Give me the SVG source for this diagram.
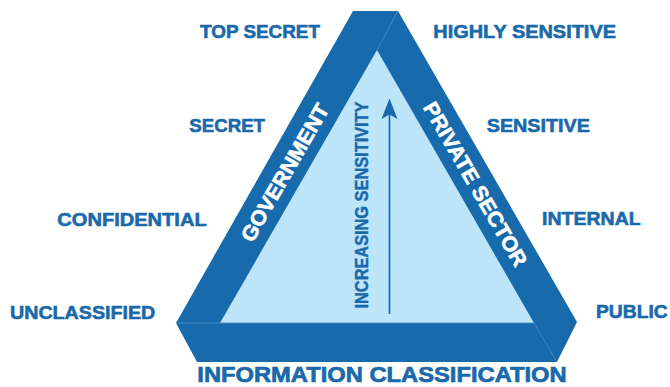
<svg xmlns="http://www.w3.org/2000/svg" width="670" height="387" viewBox="0 0 670 387">
<style>
.band{fill:#176aab}
.inner{fill:#bde5f9}
.seam{stroke:#4d90c9;stroke-width:0.8;fill:none}
.lbl{font-family:"Liberation Sans",Arial,sans-serif;font-weight:bold;font-size:19px;fill:#1a69aa;stroke:#1a69aa;stroke-width:0.6}
.bandtxt{font-family:"Liberation Sans",Arial,sans-serif;font-weight:bold;font-size:21px;fill:#ffffff;stroke:#ffffff;stroke-width:0.6}
.axis{font-family:"Liberation Sans",Arial,sans-serif;font-weight:bold;font-size:18px;fill:#1a69aa;stroke:#1a69aa;stroke-width:0.4}
.title{font-family:"Liberation Sans",Arial,sans-serif;font-weight:bold;font-size:22px;fill:#1a69aa;stroke:#1a69aa;stroke-width:0.7}
</style>
<g id="triangle">
  <polygon class="band" points="353,11 398,11 577,322 557,362 197,362 176,323"/>
  <polygon class="inner" points="377,50 534,323 220,323"/>
  <line class="seam" x1="398" y1="11" x2="377" y2="50"/>
  <line class="seam" x1="176" y1="323" x2="534" y2="323"/>
  <line class="seam" x1="534" y1="323" x2="557" y2="362"/>
</g>
<g id="government">
  <text class="bandtxt" x="284.7" y="172.5" text-anchor="middle" dominant-baseline="central" textLength="155" lengthAdjust="spacingAndGlyphs" transform="rotate(-60 284.7 172.5)">GOVERNMENT</text>
</g>
<g id="private-sector">
  <text class="bandtxt" x="475.6" y="184" text-anchor="middle" dominant-baseline="central" textLength="186" lengthAdjust="spacingAndGlyphs" transform="rotate(60 475.6 184)">PRIVATE SECTOR</text>
</g>
<g id="sensitivity-axis">
  <text class="axis" x="362" y="205" text-anchor="middle" dominant-baseline="central" textLength="207" lengthAdjust="spacingAndGlyphs" transform="rotate(-90 362 205)">INCREASING SENSITIVITY</text>
</g>
<g id="connectors">
  <line x1="389.5" y1="314" x2="389.5" y2="112" stroke="#1a69aa" stroke-width="1.6"/>
  <polygon points="389.5,98.5 397.5,119 389.5,114.5 381.5,119" fill="#1a69aa"/>
</g>
<g id="government-levels">
  <text class="lbl" x="200" y="37.7" textLength="120" lengthAdjust="spacingAndGlyphs">TOP SECRET</text>
  <text class="lbl" x="189.3" y="132.3" textLength="75.7" lengthAdjust="spacingAndGlyphs">SECRET</text>
  <text class="lbl" x="57.3" y="225.7" textLength="149.4" lengthAdjust="spacingAndGlyphs">CONFIDENTIAL</text>
  <text class="lbl" x="10" y="318.7" textLength="145.3" lengthAdjust="spacingAndGlyphs">UNCLASSIFIED</text>
</g>
<g id="private-levels">
  <text class="lbl" x="433.3" y="37.7" textLength="182.7" lengthAdjust="spacingAndGlyphs">HIGHLY SENSITIVE</text>
  <text class="lbl" x="486.7" y="131.7" textLength="103.3" lengthAdjust="spacingAndGlyphs">SENSITIVE</text>
  <text class="lbl" x="542" y="225.3" textLength="98.7" lengthAdjust="spacingAndGlyphs">INTERNAL</text>
  <text class="lbl" x="596" y="318.3" textLength="71.7" lengthAdjust="spacingAndGlyphs">PUBLIC</text>
</g>
<g id="title">
  <text class="title" x="197.3" y="382" textLength="369.4" lengthAdjust="spacingAndGlyphs">INFORMATION CLASSIFICATION</text>
</g>
</svg>
